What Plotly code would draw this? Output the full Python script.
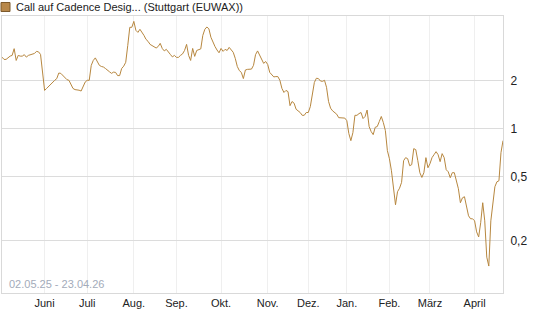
import pandas as pd
import plotly.graph_objects as go

# ---- data -------------------------------------------------------------
start_date = "2025-05-02"
end_date = "2026-04-23"
holidays = ["2025-12-24", "2025-12-25", "2025-12-26", "2025-12-31",
            "2026-01-01", "2026-04-03", "2026-04-06"]

prices = [
    2.79, 2.70, 2.70, 2.78, 2.83, 2.86, 3.15, 2.66, 2.86, 2.83,
    2.83, 2.89, 2.79, 2.86, 2.89, 2.89, 2.94, 3.03, 3.01, 2.90,
    2.14, 1.73, 1.78, 1.84, 1.88, 1.95, 2.00, 2.05, 2.22, 2.21,
    2.14, 2.07, 2.02, 2.00, 1.90, 1.78, 1.75, 1.745, 1.735, 1.715,
    1.83, 1.95, 2.00, 2.00, 2.48, 2.66, 2.76, 2.62, 2.48, 2.44,
    2.42, 2.37, 2.30, 2.26, 2.21, 2.25, 2.24, 2.14, 2.14, 2.37,
    2.45, 2.59, 3.30, 4.28, 4.28, 4.66, 4.10, 3.98, 4.16, 4.00,
    3.81, 3.60, 3.50, 3.35, 3.28, 3.25, 3.18, 3.25, 3.40, 3.16,
    3.05, 3.12, 3.03, 2.90, 2.80, 2.86, 2.78, 2.78, 2.86, 2.92,
    3.07, 3.35, 2.86, 2.66, 3.16, 2.82, 3.07, 3.09, 3.14, 3.81,
    4.16, 4.30, 4.19, 3.71, 3.45, 3.25, 3.09, 2.97, 3.16, 3.03,
    3.12, 3.07, 3.21, 3.07, 2.99, 2.74, 2.44, 2.30, 2.24, 2.05,
    2.32, 2.34, 2.34, 2.35, 2.48, 2.89, 3.05, 2.86, 2.68, 2.55,
    2.62, 2.51, 2.24, 2.18, 2.10, 2.11, 2.11, 2.00, 1.78, 1.68,
    1.73, 1.70, 1.39, 1.475, 1.44, 1.32, 1.29, 1.26, 1.21, 1.21,
    1.26, 1.26, 1.37, 1.68, 1.94, 2.06, 2.05, 1.98, 1.97, 2.00,
    1.81, 1.475, 1.34, 1.29, 1.26, 1.23, 1.17, 1.166, 1.163, 1.163,
    1.12, 0.931, 0.841, 0.944, 1.21, 1.21, 1.24, 1.26, 1.155, 1.19,
    1.305, 1.03, 0.958, 0.917, 1.019, 1.03, 1.106, 1.19, 1.09, 0.972,
    0.729, 0.649, 0.546, 0.41, 0.335, 0.404, 0.425, 0.462, 0.631, 0.659,
    0.649, 0.587, 0.596, 0.75, 0.739, 0.631, 0.531, 0.496, 0.531, 0.659,
    0.57, 0.604, 0.659, 0.688, 0.718, 0.688, 0.622, 0.698, 0.659, 0.554,
    0.538, 0.494, 0.531, 0.531, 0.466, 0.422, 0.345, 0.37, 0.376, 0.335,
    0.286, 0.274, 0.274, 0.266, 0.227, 0.211, 0.259, 0.345, 0.266, 0.158,
    0.139, 0.266, 0.355, 0.434, 0.466, 0.473, 0.708, 0.841,
]

month_labels = ["Juni", "Juli", "Aug.", "Sep.", "Okt.", "Nov.", "Dez.",
                "Jan.", "Feb.", "März", "April"]
y_tickvals = [0.2, 0.5, 1, 2]
y_ticktext = ["0,2", "0,5", "1", "2"]

series_name = "Call auf Cadence Desig... (Stuttgart (EUWAX))"
period_text = "02.05.25 - 23.04.26"

# ---- trading calendar ---------------------------------------------------
days = pd.bdate_range(start_date, end_date)
days = days[~days.isin(pd.to_datetime(holidays))]
days = days[:len(prices)]
x_cat = [d.strftime("%Y-%m-%d") for d in days]

# first trading day of each month (Juni .. April)
first_days = []
seen = set()
for d in days:
    key = (d.year, d.month)
    if key not in seen:
        seen.add(key)
        first_days.append(d.strftime("%Y-%m-%d"))
first_days = first_days[1:1 + len(month_labels)]

LINE = "#b7873f"

fig = go.Figure()
fig.add_trace(go.Scatter(
    x=x_cat, y=prices[:len(x_cat)], mode="lines",
    line=dict(color=LINE, width=1), name=series_name,
    hoverinfo="skip", showlegend=False,
))

W, H = 545, 327
ml, mr, mt, mb = 2, 42, 16, 34

fig.update_layout(
    width=W, height=H,
    margin=dict(l=ml, r=mr, t=mt, b=mb),
    paper_bgcolor="white", plot_bgcolor="white",
    font=dict(family="Liberation Sans, Arial, sans-serif", size=11, color="#222222"),
    separators=", ",
    xaxis=dict(
        type="category", range=[0, len(x_cat) - 1],
        tickmode="array", tickvals=first_days, ticktext=month_labels,
        showgrid=True, gridcolor="#efefef", gridwidth=1,
        showline=True, linecolor="#d9d9d9", linewidth=1, mirror=True,
        ticks="", zeroline=False, tickangle=0,
    ),
    yaxis=dict(
        type="log", side="right", range=[-1.025, 0.702],
        tickmode="array", tickvals=y_tickvals, ticktext=y_ticktext,
        showgrid=True, gridcolor="#dcdcdc", gridwidth=1,
        showline=True, linecolor="#d9d9d9", linewidth=1, mirror=True,
        ticks="", zeroline=False, ticklabelstandoff=4,
        tickfont=dict(size=12),
    ),
)

# legend-like header: square swatch + name
fig.add_shape(type="rect", xref="paper", yref="paper",
              x0=(1 - ml) / (W - ml - mr), x1=(10 - ml) / (W - ml - mr),
              y0=1 + (mt - 11.5) / (H - mt - mb), y1=1 + (mt - 2.5) / (H - mt - mb),
              fillcolor="#b8884a", line=dict(color="#7d5a2c", width=1))
fig.add_annotation(text=series_name, xref="paper", yref="paper",
                   x=(14 - ml) / (W - ml - mr), y=1 + (mt - 7) / (H - mt - mb),
                   xanchor="left", yanchor="middle", showarrow=False,
                   font=dict(size=11, color="#222222"))
fig.add_annotation(text=period_text, xref="paper", yref="paper",
                   x=(7 - ml) / (W - ml - mr), y=0.0, yshift=1,
                   xanchor="left", yanchor="bottom", showarrow=False,
                   font=dict(size=11, color="#a3abba"))

fig.write_html("out.html")
